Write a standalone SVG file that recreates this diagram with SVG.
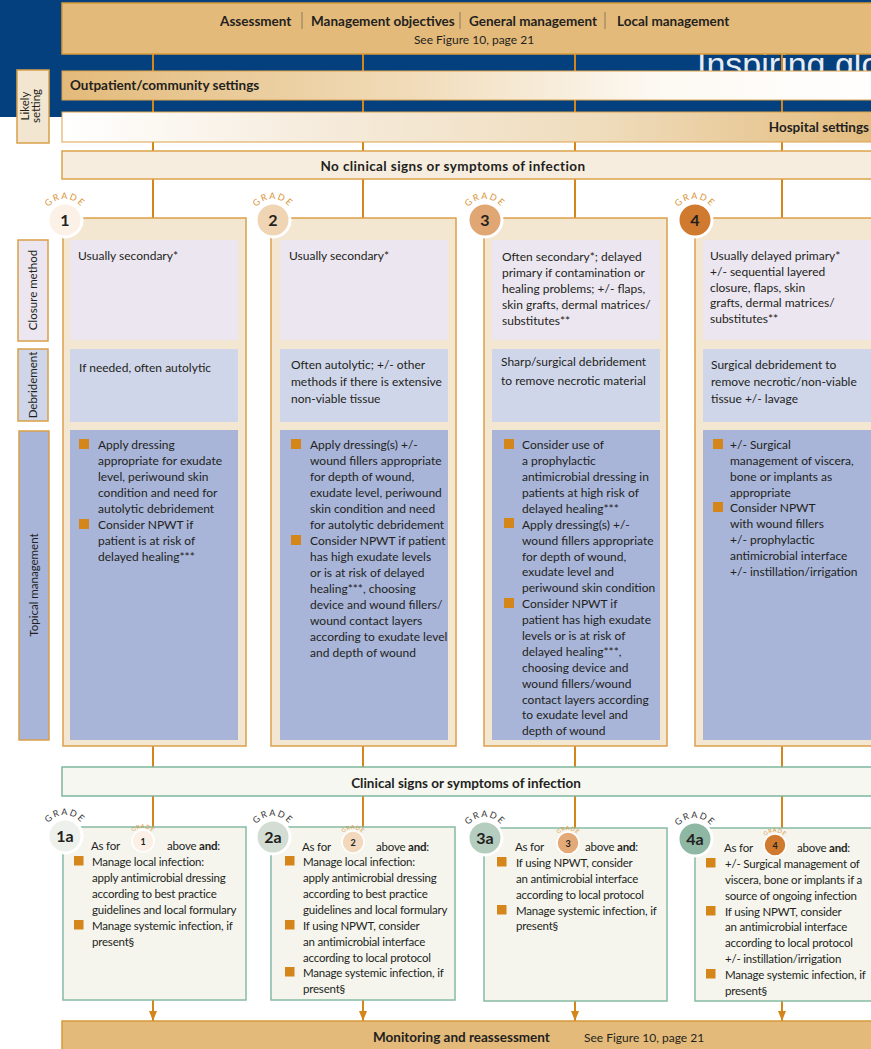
<svg xmlns="http://www.w3.org/2000/svg" width="871" height="1049" viewBox="0 0 871 1049">
<defs>
<style>
.t{font-family:Lato,"Liberation Sans",sans-serif;font-size:12px;fill:#231F20}
.tb{font-family:Lato,"Liberation Sans",sans-serif;font-size:11.5px;letter-spacing:-0.2px;fill:#231F20}
.h{font-family:Lato,"Liberation Sans",sans-serif;font-size:13.5px;font-weight:bold;fill:#231F20}
.s{font-family:Lato,"Liberation Sans",sans-serif;font-size:11.5px;fill:#231F20}
.col{fill:#F4E7D2;stroke:#DBA04A;stroke-width:1.5}
.cl{fill:#ECE6F1}
.db{fill:#D0D6EA}
.tp{fill:#A8B5D9}
.sq{fill:#D4861A}
.conn{stroke:#D4861A;stroke-width:2;fill:none}
.gbox{fill:#F5F5EE;stroke:#86BBA2;stroke-width:1.5}
.badge{stroke:#FFFFFF;stroke-width:3}
.mini{stroke:#FFFFFF;stroke-width:1.5}
.num{font-family:Lato,"Liberation Sans",sans-serif;font-size:16px;font-weight:bold;fill:#231F20;text-anchor:middle}
.mnum{font-family:Lato,"Liberation Sans",sans-serif;font-size:9px;font-weight:bold;fill:#231F20;text-anchor:middle}
.gr{font-family:Lato,"Liberation Sans",sans-serif;font-size:9px;letter-spacing:1.6px;fill:#D9963A}
.grd{font-family:Lato,"Liberation Sans",sans-serif;font-size:9px;letter-spacing:1.6px;fill:#3A3A3A}
.grm{font-family:Lato,"Liberation Sans",sans-serif;font-size:5.5px;letter-spacing:0.6px;fill:#D9963A}
.side{stroke:#D9A04A;stroke-width:1.5}
.sep{stroke:#8A7A60;stroke-width:1}
</style>
<linearGradient id="gOut" x1="0" y1="0" x2="1" y2="0">
<stop offset="0" stop-color="#E3BA7A"/>
<stop offset="0.4" stop-color="#F0DAB6"/>
<stop offset="0.72" stop-color="#FDF9F3"/>
<stop offset="1" stop-color="#FFFFFF"/>
</linearGradient>
<linearGradient id="gHos" x1="0" y1="0" x2="1" y2="0">
<stop offset="0" stop-color="#FFFFFF"/>
<stop offset="0.3" stop-color="#F6ECDD"/>
<stop offset="0.65" stop-color="#EFDCBC"/>
<stop offset="1" stop-color="#E3BA7A"/>
</linearGradient>
<path id="arc" d="M-21,0 A21,21 0 0 1 21,0"/>
<path id="arcS" d="M-13,0 A13,13 0 0 1 13,0"/>
<marker id="ah" viewBox="0 0 10 8" refX="10" refY="4" markerWidth="11" markerHeight="8" markerUnits="userSpaceOnUse" orient="auto">
<path d="M0,0 L10,4 L0,8 z" fill="#D4861A"/>
</marker>
</defs>

<!-- background -->
<rect x="0" y="0" width="871" height="112" fill="#05407E"/>
<rect x="0" y="112" width="62" height="5" fill="#05407E"/>
<text x="697" y="76" font-family="'Liberation Sans',sans-serif" font-size="34" fill="#FFFFFF" opacity="0.9">Inspiring glo</text>

<!-- connectors -->
<g id="connectors">
<line class="conn" x1="153" y1="54" x2="153" y2="218"/>
<line class="conn" x1="363" y1="54" x2="363" y2="218"/>
<line class="conn" x1="575" y1="54" x2="575" y2="218"/>
<line class="conn" x1="782" y1="54" x2="782" y2="218"/>
<line class="conn" x1="153" y1="746" x2="153" y2="827"/>
<line class="conn" x1="363" y1="746" x2="363" y2="827"/>
<line class="conn" x1="575" y1="746" x2="575" y2="828"/>
<line class="conn" x1="782" y1="746" x2="782" y2="828"/>
<line class="conn" x1="153" y1="1000" x2="153" y2="1021" marker-end="url(#ah)"/>
<line class="conn" x1="363" y1="1000" x2="363" y2="1021" marker-end="url(#ah)"/>
<line class="conn" x1="575" y1="1001" x2="575" y2="1021" marker-end="url(#ah)"/>
<line class="conn" x1="782" y1="1001" x2="782" y2="1021" marker-end="url(#ah)"/>
</g>

<!-- header -->
<g id="header">
<rect x="62" y="3" width="830" height="51" fill="#E3BA7A" stroke="#D69A3A" stroke-width="1.5"/>
<text class="h" x="220" y="26">Assessment</text>
<line class="sep" x1="302" y1="12" x2="302" y2="29"/>
<text class="h" x="311" y="26">Management objectives</text>
<line class="sep" x1="460" y1="12" x2="460" y2="29"/>
<text class="h" x="469" y="26">General management</text>
<line class="sep" x1="605" y1="12" x2="605" y2="29"/>
<text class="h" x="617" y="26">Local management</text>
<text class="t" font-size="11" x="474" y="44" text-anchor="middle">See Figure 10, page 21</text>
</g>

<g id="outpatient">
<rect x="62" y="71" width="830" height="29" fill="url(#gOut)" stroke="#DDA24A" stroke-width="1"/>
<text class="h" x="70" y="90">Outpatient/community settings</text>
</g>
<g id="hospital">
<rect x="62" y="112" width="830" height="30" fill="url(#gHos)" stroke="#DDA24A" stroke-width="1"/>
<text class="h" x="869" y="132" text-anchor="end">Hospital settings</text>
</g>

<g id="likely-setting">
<rect class="side" x="17" y="70" width="32" height="73" fill="#F3E6D0"/>
<text class="s" font-size="10.5" transform="translate(29,106) rotate(-90)" text-anchor="middle">Likely</text>
<text class="s" font-size="10.5" transform="translate(40,106) rotate(-90)" text-anchor="middle">setting</text>
</g>

<g id="no-infection">
<rect x="62" y="151" width="830" height="28" fill="#F6EDDF" stroke="#DDA24A" stroke-width="1.5"/>
<text class="h" font-size="15" letter-spacing="0.4" x="453" y="171" text-anchor="middle">No clinical signs or symptoms of infection</text>
</g>

<!-- side labels -->
<g id="label-closure">
<rect class="side" x="18" y="240" width="30" height="101" fill="#ECE6F1"/>
<text class="s" transform="translate(37,290) rotate(-90)" text-anchor="middle">Closure method</text>
</g>
<g id="label-debridement">
<rect class="side" x="18" y="349" width="30" height="72" fill="#D0D6EA"/>
<text class="s" transform="translate(37,385) rotate(-90)" text-anchor="middle">Debridement</text>
</g>
<g id="label-topical">
<rect class="side" x="19" y="431" width="30" height="309" fill="#A8B5D9"/>
<text class="s" transform="translate(38,585) rotate(-90)" text-anchor="middle">Topical management</text>
</g>

<!-- Grade 1 -->
<g id="grade1">
<rect class="col" x="63" y="218" width="183" height="528"/>
<rect class="cl" x="70" y="240" width="168" height="100"/>
<rect class="db" x="70" y="349" width="168" height="73"/>
<rect class="tp" x="70" y="430" width="168" height="310"/>
<text class="t" x="78" y="260">Usually secondary*</text>
<text class="t" x="79" y="372">If needed, often autolytic</text>
<rect class="sq" x="79" y="439" width="10" height="10"/>
<rect class="sq" x="79" y="519" width="10" height="10"/>
<text class="t"><tspan x="98" y="449">Apply dressing</tspan><tspan x="98" y="465">appropriate for exudate</tspan><tspan x="98" y="481">level, periwound skin</tspan><tspan x="98" y="497">condition and need for</tspan><tspan x="98" y="513">autolytic debridement</tspan><tspan x="98" y="529">Consider NPWT if</tspan><tspan x="98" y="545">patient is at risk of</tspan><tspan x="98" y="561">delayed healing***</tspan></text>
<g transform="translate(65,220)">
<circle class="badge" r="17" fill="#FBF1E6"/>
<text class="num" y="6">1</text>
<text class="gr"><textPath href="#arc" startOffset="50%" text-anchor="middle">GRADE</textPath></text>
</g>
</g>

<!-- Grade 2 -->
<g id="grade2">
<rect class="col" x="271" y="218" width="185" height="528"/>
<rect class="cl" x="280" y="240" width="168" height="100"/>
<rect class="db" x="280" y="349" width="168" height="73"/>
<rect class="tp" x="280" y="430" width="168" height="310"/>
<text class="t" x="289" y="260">Usually secondary*</text>
<text class="t"><tspan x="291" y="369">Often autolytic; +/- other</tspan><tspan x="291" y="386">methods if there is extensive</tspan><tspan x="291" y="403">non-viable tissue</tspan></text>
<rect class="sq" x="291" y="439" width="10" height="10"/>
<rect class="sq" x="291" y="535" width="10" height="10"/>
<text class="t"><tspan x="310" y="449">Apply dressing(s) +/-</tspan><tspan x="310" y="465">wound fillers appropriate</tspan><tspan x="310" y="481">for depth of wound,</tspan><tspan x="310" y="497">exudate level, periwound</tspan><tspan x="310" y="513">skin condition and need</tspan><tspan x="310" y="529">for autolytic debridement</tspan><tspan x="310" y="545">Consider NPWT if patient</tspan><tspan x="310" y="561">has high exudate levels</tspan><tspan x="310" y="577">or is at risk of delayed</tspan><tspan x="310" y="593">healing***, choosing</tspan><tspan x="310" y="609">device and wound fillers/</tspan><tspan x="310" y="625">wound contact layers</tspan><tspan x="310" y="641">according to exudate level</tspan><tspan x="310" y="657">and depth of wound</tspan></text>
<g transform="translate(273,220)">
<circle class="badge" r="17" fill="#F0D5B4"/>
<text class="num" y="6">2</text>
<text class="gr"><textPath href="#arc" startOffset="50%" text-anchor="middle">GRADE</textPath></text>
</g>
</g>

<!-- Grade 3 -->
<g id="grade3">
<rect class="col" x="484" y="218" width="183" height="528"/>
<rect class="cl" x="492" y="240" width="168" height="100"/>
<rect class="db" x="492" y="349" width="168" height="73"/>
<rect class="tp" x="492" y="430" width="168" height="310"/>
<text class="t"><tspan x="502" y="261">Often secondary*; delayed</tspan><tspan x="502" y="277">primary if contamination or</tspan><tspan x="502" y="293">healing problems; +/- flaps,</tspan><tspan x="502" y="309">skin grafts, dermal matrices/</tspan><tspan x="502" y="325">substitutes**</tspan></text>
<text class="t"><tspan x="501" y="366">Sharp/surgical debridement</tspan><tspan x="501" y="385">to remove necrotic material</tspan></text>
<rect class="sq" x="504" y="439" width="10" height="10"/>
<rect class="sq" x="504" y="518" width="10" height="10"/>
<rect class="sq" x="504" y="598" width="10" height="10"/>
<text class="t"><tspan x="522" y="449">Consider use of</tspan><tspan x="522" y="465">a prophylactic</tspan><tspan x="522" y="481">antimicrobial dressing in</tspan><tspan x="522" y="497">patients at high risk of</tspan><tspan x="522" y="512.5">delayed healing***</tspan><tspan x="522" y="528.5">Apply dressing(s) +/-</tspan><tspan x="522" y="544.5">wound fillers appropriate</tspan><tspan x="522" y="560.5">for depth of wound,</tspan><tspan x="522" y="576">exudate level and</tspan><tspan x="522" y="592">periwound skin condition</tspan><tspan x="522" y="608">Consider NPWT if</tspan><tspan x="522" y="624">patient has high exudate</tspan><tspan x="522" y="640">levels or is at risk of</tspan><tspan x="522" y="655.5">delayed healing***,</tspan><tspan x="522" y="671.5">choosing device and</tspan><tspan x="522" y="687.5">wound fillers/wound</tspan><tspan x="522" y="703.5">contact layers according</tspan><tspan x="522" y="719">to exudate level and</tspan><tspan x="522" y="735">depth of wound</tspan></text>
<g transform="translate(485,220)">
<circle class="badge" r="17" fill="#E0A774"/>
<text class="num" y="6">3</text>
<text class="gr"><textPath href="#arc" startOffset="50%" text-anchor="middle">GRADE</textPath></text>
</g>
</g>

<!-- Grade 4 -->
<g id="grade4">
<rect class="col" x="695" y="218" width="190" height="528"/>
<rect class="cl" x="703" y="240" width="180" height="100"/>
<rect class="db" x="703" y="349" width="180" height="73"/>
<rect class="tp" x="703" y="430" width="180" height="310"/>
<text class="t"><tspan x="710" y="260">Usually delayed primary*</tspan><tspan x="710" y="276">+/- sequential layered</tspan><tspan x="710" y="291.5">closure, flaps, skin</tspan><tspan x="710" y="307">grafts, dermal matrices/</tspan><tspan x="710" y="323">substitutes**</tspan></text>
<text class="t"><tspan x="711" y="369">Surgical debridement to</tspan><tspan x="711" y="386">remove necrotic/non-viable</tspan><tspan x="711" y="403">tissue +/- lavage</tspan></text>
<rect class="sq" x="713" y="439" width="10" height="10"/>
<rect class="sq" x="713" y="502" width="10" height="10"/>
<text class="t"><tspan x="730" y="449">+/- Surgical</tspan><tspan x="730" y="465">management of viscera,</tspan><tspan x="730" y="481">bone or implants as</tspan><tspan x="730" y="496.5">appropriate</tspan><tspan x="730" y="512">Consider NPWT</tspan><tspan x="730" y="528">with wound fillers</tspan><tspan x="730" y="544">+/- prophylactic</tspan><tspan x="730" y="560">antimicrobial interface</tspan><tspan x="730" y="575.5">+/- instillation/irrigation</tspan></text>
<g transform="translate(695,220)">
<circle class="badge" r="17" fill="#D07A30"/>
<text class="num" y="6">4</text>
<text class="gr"><textPath href="#arc" startOffset="50%" text-anchor="middle">GRADE</textPath></text>
</g>
</g>

<g id="infection">
<rect x="62" y="767" width="830" height="29" fill="#F7F7F1" stroke="#7DB79D" stroke-width="1.5"/>
<text class="h" font-size="14" x="466" y="788" text-anchor="middle">Clinical signs or symptoms of infection</text>
</g>

<!-- Grade 1a -->
<g id="grade1a">
<rect class="gbox" x="63" y="827" width="183" height="173"/>
<text class="tb" x="91" y="850">As for</text>
<g transform="translate(143,841)">
<circle class="mini" r="11" fill="#FBEFE6"/>
<text class="mnum" y="3.5">1</text>
<text class="grm"><textPath href="#arcS" startOffset="50%" text-anchor="middle">GRADE</textPath></text>
</g>
<text class="tb" x="167" y="850">above <tspan font-weight="bold">and</tspan>:</text>
<rect class="sq" x="74" y="856" width="9.5" height="9.5"/>
<rect class="sq" x="74" y="920" width="9.5" height="9.5"/>
<text class="tb"><tspan x="92" y="866">Manage local infection:</tspan><tspan x="92" y="882">apply antimicrobial dressing</tspan><tspan x="92" y="898">according to best practice</tspan><tspan x="92" y="914">guidelines and local formulary</tspan><tspan x="92" y="930">Manage systemic infection, if</tspan><tspan x="92" y="946">present§</tspan></text>
<g transform="translate(65,836)">
<circle class="badge" r="17" fill="#EEF0EC"/>
<text class="num" y="6" font-size="15">1a</text>
<text class="grd"><textPath href="#arc" startOffset="50%" text-anchor="middle">GRADE</textPath></text>
</g>
</g>

<!-- Grade 2a -->
<g id="grade2a">
<rect class="gbox" x="271" y="827" width="184" height="173"/>
<text class="tb" x="302" y="851">As for</text>
<g transform="translate(353,842)">
<circle class="mini" r="11" fill="#F2D8BC"/>
<text class="mnum" y="3.5">2</text>
<text class="grm"><textPath href="#arcS" startOffset="50%" text-anchor="middle">GRADE</textPath></text>
</g>
<text class="tb" x="376" y="851">above <tspan font-weight="bold">and</tspan>:</text>
<rect class="sq" x="285" y="856" width="9.5" height="9.5"/>
<rect class="sq" x="285" y="920" width="9.5" height="9.5"/>
<rect class="sq" x="285" y="967" width="9.5" height="9.5"/>
<text class="tb"><tspan x="303" y="866">Manage local infection:</tspan><tspan x="303" y="882">apply antimicrobial dressing</tspan><tspan x="303" y="898">according to best practice</tspan><tspan x="303" y="914">guidelines and local formulary</tspan><tspan x="303" y="930">If using NPWT, consider</tspan><tspan x="303" y="946">an antimicrobial interface</tspan><tspan x="303" y="962">according to local protocol</tspan><tspan x="303" y="977">Manage systemic infection, if</tspan><tspan x="303" y="993">present§</tspan></text>
<g transform="translate(273,837)">
<circle class="badge" r="17" fill="#D3DDD3"/>
<text class="num" y="6" font-size="15">2a</text>
<text class="grd"><textPath href="#arc" startOffset="50%" text-anchor="middle">GRADE</textPath></text>
</g>
</g>

<!-- Grade 3a -->
<g id="grade3a">
<rect class="gbox" x="484" y="828" width="183" height="173"/>
<text class="tb" x="515" y="851">As for</text>
<g transform="translate(568,843)">
<circle class="mini" r="11" fill="#E3AA78"/>
<text class="mnum" y="3.5">3</text>
<text class="grm"><textPath href="#arcS" startOffset="50%" text-anchor="middle">GRADE</textPath></text>
</g>
<text class="tb" x="585" y="851">above <tspan font-weight="bold">and</tspan>:</text>
<rect class="sq" x="497" y="857" width="9.5" height="9.5"/>
<rect class="sq" x="497" y="905" width="9.5" height="9.5"/>
<text class="tb"><tspan x="516" y="867">If using NPWT, consider</tspan><tspan x="516" y="883">an antimicrobial interface</tspan><tspan x="516" y="899">according to local protocol</tspan><tspan x="516" y="915">Manage systemic infection, if</tspan><tspan x="516" y="930">present§</tspan></text>
<g transform="translate(485,838)">
<circle class="badge" r="17" fill="#B5CDBF"/>
<text class="num" y="6" font-size="15">3a</text>
<text class="grd"><textPath href="#arc" startOffset="50%" text-anchor="middle">GRADE</textPath></text>
</g>
</g>

<!-- Grade 4a -->
<g id="grade4a">
<rect class="gbox" x="695" y="828" width="190" height="173"/>
<text class="tb" x="724" y="852">As for</text>
<g transform="translate(775,845)">
<circle class="mini" r="11" fill="#D07A30"/>
<text class="mnum" y="3.5">4</text>
<text class="grm"><textPath href="#arcS" startOffset="50%" text-anchor="middle">GRADE</textPath></text>
</g>
<text class="tb" x="797" y="852">above <tspan font-weight="bold">and</tspan>:</text>
<rect class="sq" x="706" y="858" width="9.5" height="9.5"/>
<rect class="sq" x="706" y="906" width="9.5" height="9.5"/>
<rect class="sq" x="706" y="969" width="9.5" height="9.5"/>
<text class="tb"><tspan x="725" y="868">+/- Surgical management of</tspan><tspan x="725" y="884">viscera, bone or implants if a</tspan><tspan x="725" y="900">source of ongoing infection</tspan><tspan x="725" y="916">If using NPWT, consider</tspan><tspan x="725" y="931">an antimicrobial interface</tspan><tspan x="725" y="947">according to local protocol</tspan><tspan x="725" y="963">+/- instillation/irrigation</tspan><tspan x="725" y="979">Manage systemic infection, if</tspan><tspan x="725" y="995">present§</tspan></text>
<g transform="translate(695,839)">
<circle class="badge" r="17" fill="#8FB8A4"/>
<text class="num" y="6" font-size="15">4a</text>
<text class="grd"><textPath href="#arc" startOffset="50%" text-anchor="middle">GRADE</textPath></text>
</g>
</g>

<g id="monitoring">
<rect x="62" y="1021" width="830" height="40" fill="#E3BA7A" stroke="#D69A3A" stroke-width="1.5"/>
<text class="h" font-size="14" x="373" y="1042">Monitoring and reassessment</text>
<text class="t" x="584" y="1042" font-size="13">See Figure 10, page 21</text>
</g>
</svg>
